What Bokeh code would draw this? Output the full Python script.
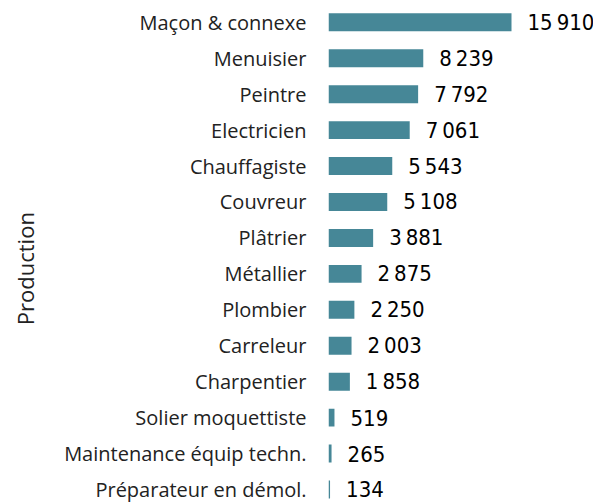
from bokeh.plotting import figure
from bokeh.models import ColumnDataSource, Range1d, FixedTicker
from bokeh.core.properties import value
from bokeh.embed import file_html
from bokeh.resources import INLINE

categories = ["Maçon & connexe", "Menuisier", "Peintre", "Electricien", "Chauffagiste",
              "Couvreur", "Plâtrier", "Métallier", "Plombier", "Carreleur", "Charpentier",
              "Solier moquettiste", "Maintenance équip techn.", "Préparateur en démol."]
values = [15910, 8239, 7792, 7061, 5543, 5108, 3881, 2875, 2250, 2003, 1858, 519, 265, 134]
axis_title = "Production"

def fmt(v):
    s = f"{v:,}"
    return s.replace(",", "\u2009")

ys = list(range(len(categories)))
src = ColumnDataSource(dict(y=ys, v=values, lbl=[fmt(v) for v in values]))

p = figure(width=593, height=502, output_backend="svg", toolbar_location=None,
           x_range=Range1d(0, 23039), y_range=Range1d(13.362, -0.607),
           x_axis_location=None, min_border_left=328, min_border_right=0,
           min_border_top=0, min_border_bottom=0)
p.outline_line_color = None
p.grid.visible = False
p.background_fill_color = "white"

p.hbar(y="y", right="v", left=0, height=0.5, source=src, color="#468797", line_color=None)
p.text(x="v", y="y", text="lbl", source=src, x_offset=16, text_baseline="middle",
       text_align="left", text_font=value("DejaVu Sans Condensed"), text_font_size="22px",
       text_color="#000000")

ax = p.yaxis[0]
ax.ticker = FixedTicker(ticks=ys)
ax.major_label_overrides = {i: c for i, c in enumerate(categories)}
ax.major_label_text_font = "Open Sans"
ax.major_label_text_font_size = "20px"
ax.major_label_text_color = "#222222"
ax.major_label_standoff = 22
ax.major_tick_out = 0
ax.major_tick_in = 0
ax.major_tick_line_color = None
ax.minor_tick_line_color = None
ax.axis_line_color = None
ax.axis_label = axis_title + "\u00a0" * 6
ax.axis_label_text_font = "Open Sans"
ax.axis_label_text_font_size = "22px"
ax.axis_label_text_font_style = "normal"
ax.axis_label_text_color = "#222222"
ax.axis_label_standoff = 21

open("out.html", "w").write(file_html(p, INLINE))
